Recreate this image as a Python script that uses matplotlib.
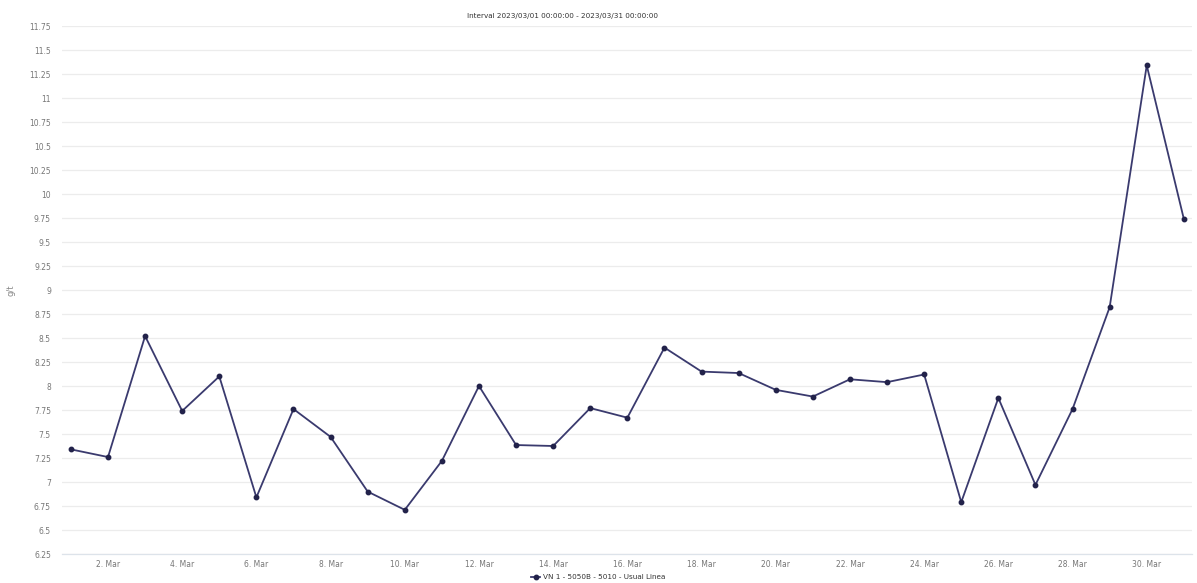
import matplotlib
matplotlib.use("Agg")
import matplotlib.pyplot as plt
import numpy as np

days = list(range(1, 32))
values = [7.34, 7.26, 8.52, 7.74, 8.10, 6.84, 7.76, 7.47, 6.90, 6.71,
          7.22, 8.00, 7.385, 7.375, 7.77, 7.67, 8.40, 8.15, 8.135, 7.96,
          7.89, 8.07, 8.04, 8.12, 6.79, 7.875, 6.97, 7.76, 8.82, 11.34, 9.74]
tick_days = list(range(2, 31, 2))
tick_labels = [f"{d}. Mar" for d in tick_days]
y_ticks = [6.25, 6.5, 6.75, 7, 7.25, 7.5, 7.75, 8, 8.25, 8.5, 8.75, 9, 9.25,
           9.5, 9.75, 10, 10.25, 10.5, 10.75, 11, 11.25, 11.5, 11.75]
title = "Interval 2023/03/01 00:00:00 - 2023/03/31 00:00:00"
series_name = "VN 1 - 5050B - 5010 - Usual Linea"
y_label = "g/t"

fig = plt.figure(figsize=(11.97, 5.83), dpi=100)
ax = fig.add_axes([62/1197, 1-554/583, (1192-62)/1197, (554-26)/583])

line_color = "#3a3a6e"
ax.plot(days, values, color=line_color, lw=1.3, marker="o", ms=3.2,
        markerfacecolor="#22224a", markeredgecolor="#22224a", label=series_name)

ax.set_xlim(1 - 0.24, 31 + 0.22)
ax.set_ylim(6.25, 11.75)
ax.set_yticks(y_ticks)
ax.set_yticklabels([f"{v:g}" for v in y_ticks])
ax.set_xticks(tick_days)
ax.set_xticklabels(tick_labels)

ax.grid(axis="y", color="#ececec", lw=0.9)
ax.set_axisbelow(True)
for s in ["top", "right", "left"]:
    ax.spines[s].set_visible(False)
ax.spines["bottom"].set_color("#dde3ea")
ax.spines["bottom"].set_linewidth(0.9)
ax.tick_params(axis="both", length=0, labelsize=5.5, colors="#777777")
ax.tick_params(axis="y", pad=8)
ax.tick_params(axis="x", pad=4)

ax.set_ylabel(y_label, fontsize=6, color="#888888", labelpad=10)

fig.text(0.47, 1 - 16/583, title, ha="center", va="center", fontsize=5.2, color="#333333")

leg = fig.legend(handles=ax.get_lines(), loc="center", bbox_to_anchor=(0.5, 1 - 577/583),
                 frameon=False, fontsize=5.2, handlelength=1.2, handletextpad=0.5,
                 borderaxespad=0, borderpad=0)
for t in leg.get_texts():
    t.set_color("#333333")

fig.savefig("out.png", dpi=100)
